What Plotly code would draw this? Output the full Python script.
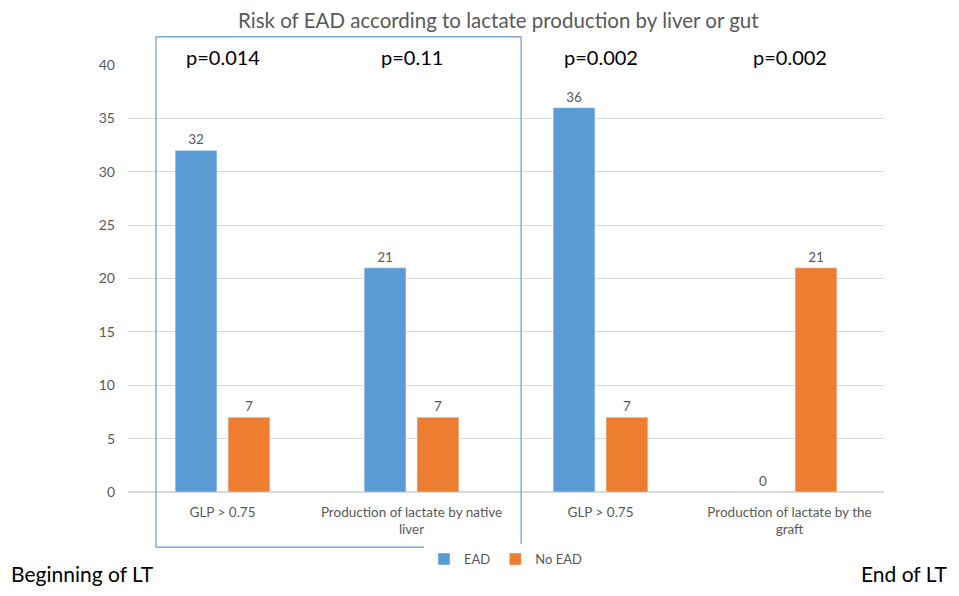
import plotly.graph_objects as go

categories = ["GLP > 0.75", "Production of lactate by native<br>liver",
              "GLP > 0.75", "Production of lactate by the<br>graft"]
ead = [32, 21, 36, 0]
no_ead = [7, 7, 7, 21]
p_values = ["p=0.014", "p=0.11", "p=0.002", "p=0.002"]

xpos = list(range(len(categories)))
font = "Lato, 'Open Sans', sans-serif"
grey = "#595959"

fig = go.Figure()
fig.add_trace(go.Bar(x=xpos, y=ead, name="EAD", marker_color="#5B9BD5",
                     text=ead, textposition="outside",
                     textfont=dict(size=13.5, color=grey), cliponaxis=False))
fig.add_trace(go.Bar(x=xpos, y=no_ead, name="No EAD", marker_color="#ED7D31",
                     text=no_ead, textposition="outside",
                     textfont=dict(size=13.5, color=grey), cliponaxis=False))

# p-values above each group
for x, p in zip(xpos, p_values):
    fig.add_annotation(x=x, y=1.019, xref="x", yref="paper", text=p,
                       showarrow=False, yanchor="middle",
                       font=dict(size=20, color="black"))

fig.add_annotation(x=-0.156, y=-0.2225, xref="paper", yref="paper",
                   text="Beginning of LT", showarrow=False, xanchor="left",
                   yanchor="bottom", borderpad=0,
                   font=dict(size=21, color="black"))
fig.add_annotation(x=1.086, y=-0.2225, xref="paper", yref="paper",
                   text="End of LT", showarrow=False, xanchor="right",
                   yanchor="bottom", borderpad=0,
                   font=dict(size=21, color="black"))

# box around the "beginning of LT" groups
fig.add_shape(type="rect", xref="paper", yref="paper",
              x0=0.037, x1=0.52, y0=-0.129, y1=1.066,
              line=dict(color="#6A9BCB", width=1.2))

fig.update_layout(
    width=943, height=580,
    margin=dict(l=120, r=67, t=57, b=96),
    plot_bgcolor="white", paper_bgcolor="white",
    font=dict(family=font, color=grey, size=13),
    title=dict(text="Risk of EAD according to lactate production by liver or gut",
               x=0.52, xanchor="center", y=0.99, yanchor="top", yref="container",
               font=dict(size=20.5, color=grey)),
    barmode="group", bargap=0.44, bargroupgap=0.21,
    legend=dict(orientation="h", x=0.5, xanchor="center", y=-0.157,
                yanchor="middle", font=dict(size=13, color=grey),
                itemwidth=30, tracegroupgap=0),
    showlegend=True,
)
fig.update_xaxes(tickvals=xpos, ticktext=categories, range=[-0.5, 3.5],
                 showgrid=False, ticks="", showline=False,
                 tickfont=dict(size=13.5, color=grey), ticklabelstandoff=10)
fig.update_yaxes(range=[0, 40], dtick=5, gridcolor="#D9D9D9",
                 zerolinecolor="#D9D9D9", ticks="", showline=False,
                 tickfont=dict(size=14, color=grey), ticklabelstandoff=12)

fig.write_html("out.html")
